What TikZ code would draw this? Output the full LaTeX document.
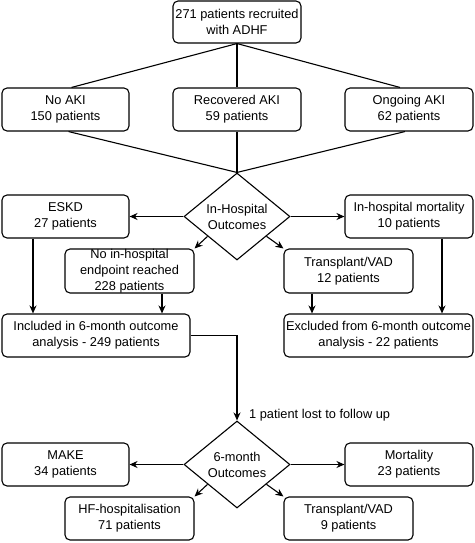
\documentclass[tikz,border=0pt]{standalone}
\usepackage{fontspec}
\setmainfont{Liberation Sans}
\usetikzlibrary{arrows.meta,shapes.geometric,calc}
\begin{document}
\begin{tikzpicture}[x=1pt,y=-1pt,
  txt/.style={font=\fontsize{12.8}{16}\selectfont},
  box/.style={txt, draw=black, line width=1.1pt, rounded corners=5pt, fill=white, inner sep=0pt, align=center},
  dia/.style={txt, draw=black, diamond, line width=1.1pt, fill=white, inner sep=0pt, align=center, minimum width=106pt, minimum height=87pt},
  arr/.style={-{Stealth[length=8pt,width=7pt]}, line width=1.1pt},
  ln/.style={line width=1.1pt}]
\useasboundingbox (0,0) rectangle (474,543);
% nodes
\node[box, minimum width=128pt, minimum height=42pt] (top) at (237,22) {271 patients recruited\\with ADHF};
\node[box, minimum width=127pt, minimum height=43pt] (noaki) at (65.5,109.5) {No AKI\\150 patients};
\node[box, minimum width=128pt, minimum height=43pt] (rec) at (237,109.5) {Recovered AKI\\59 patients};
\node[box, minimum width=128pt, minimum height=43pt] (ong) at (409,109.5) {Ongoing AKI\\62 patients};
\node[dia] (d1) at (237,216.5) {In-Hospital\\Outcomes};
\node[box, minimum width=127pt, minimum height=43pt] (eskd) at (65.5,216.5) {ESKD\\27 patients};
\node[box, minimum width=128pt, minimum height=43pt] (mort) at (409,216.5) {In-hospital mortality\\10 patients};
\node[box, minimum width=129pt, minimum height=44pt] (noend) at (129.5,271) {No in-hospital\\endpoint reached\\228 patients};
\node[box, minimum width=129pt, minimum height=44pt] (tv1) at (348.5,271) {Transplant/VAD\\12 patients};
\node[box, minimum width=188pt, minimum height=43pt] (inc) at (96,335.5) {Included in 6-month outcome\\analysis - 249 patients};
\node[box, minimum width=189pt, minimum height=43pt] (exc) at (378.5,335.5) {Excluded from 6-month outcome\\analysis - 22 patients};
\node[dia] (d2) at (237,464.5) {6-month\\Outcomes};
\node[box, minimum width=127pt, minimum height=43pt] (make) at (65.5,464.5) {MAKE\\34 patients};
\node[box, minimum width=128pt, minimum height=43pt] (mort2) at (409,464.5) {Mortality\\23 patients};
\node[box, minimum width=129pt, minimum height=43pt] (hf) at (129.5,518.5) {HF-hospitalisation\\71 patients};
\node[box, minimum width=129pt, minimum height=43pt] (tv2) at (348.5,518.5) {Transplant/VAD\\9 patients};
\node[txt, anchor=west, inner sep=0pt] (lost) at (249,415) {1 patient lost to follow up};
% top fan-out and fan-in
\draw[ln] (top.south) -- ($(noaki.north)+(6,0)$);
\draw[ln] (top.south) -- (rec.north);
\draw[ln] (top.south) -- ($(ong.north)+(-9,0)$);
\draw[ln] ($(noaki.south)+(3,0)$) -- (d1.north);
\draw[ln] (rec.south) -- (d1.north);
\draw[ln] ($(ong.south)+(-4,0)$) -- (d1.north);
% in-hospital outcomes
\draw[arr] (d1.west) -- (eskd.east);
\draw[arr] (d1.east) -- (mort.west);
\draw[arr] ($(d1.west)!0.45!(d1.south)$) -- (noend.north east);
\draw[arr] ($(d1.east)!0.45!(d1.south)$) -- (tv1.north west);
\coordinate (e1) at ($(eskd.south)+(-32.5,0)$);
\coordinate (e2) at ($(noend.south)+(32.5,0)$);
\coordinate (e3) at ($(tv1.south)+(-36.5,0)$);
\coordinate (e4) at ($(mort.south)+(33,0)$);
\draw[arr] (e1) -- (e1 |- inc.north);
\draw[arr] (e2) -- (e2 |- inc.north);
\draw[arr] (e3) -- (e3 |- exc.north);
\draw[arr] (e4) -- (e4 |- exc.north);
% to 6-month outcomes
\draw[arr] (inc.east) -| (d2.north);
\draw[arr] (d2.west) -- (make.east);
\draw[arr] (d2.east) -- (mort2.west);
\draw[arr] ($(d2.west)!0.45!(d2.south)$) -- (hf.north east);
\draw[arr] ($(d2.east)!0.45!(d2.south)$) -- (tv2.north west);
\end{tikzpicture}
\end{document}
